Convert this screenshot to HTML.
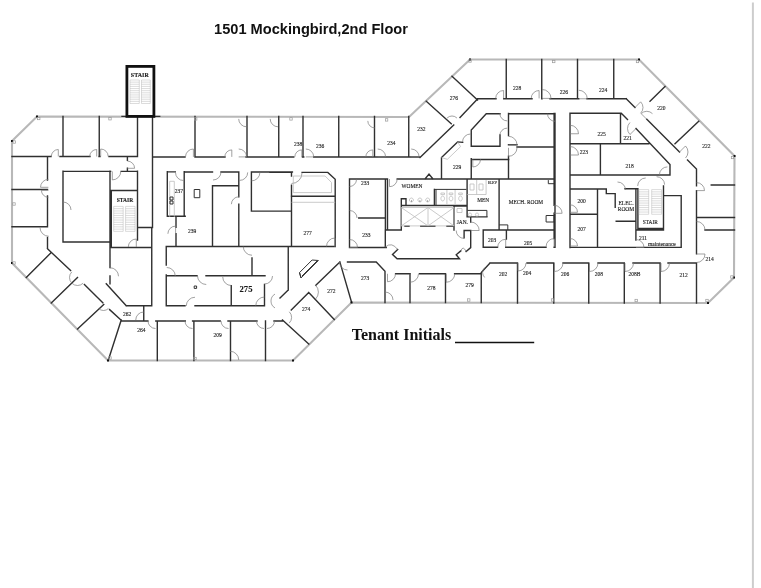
<!DOCTYPE html>
<html><head><meta charset="utf-8"><style>
html,body{margin:0;padding:0;background:#fff;width:761px;height:588px;overflow:hidden}
svg{position:absolute;left:0;top:0;will-change:transform}
</style></head><body>
<svg width="761" height="588" viewBox="0 0 761 588">
<line x1="752.9" y1="2.5" x2="752.9" y2="588" stroke="#cdcdcd" stroke-width="2"/>
<text x="311" y="33.7" font-family="Liberation Sans" font-weight="bold" font-size="14.6" text-anchor="middle" fill="#111">1501 Mockingbird,2nd Floor</text>
<path d="M37 116.5 L409 117 L470 59.5 L639 59.5 L734.5 156 L734 277.5 L708 303 L351.5 302.5 L293 360.5 L108 360.5 L12 263 L12 141 Z" fill="none" stroke="#b8b8b8" stroke-width="2.1" stroke-linejoin="miter"/>
<path d="M63 116.5 V156.5 M99.25 116.5 V156.5 M12 156.5 H51 M60 156.5 H90 M99 156.5 H100 M109 156.5 H137.5 M137.5 116.5 V156.5 M137.5 171.25 V240 M152.5 116.5 V227.5 M12 189.5 H47.5 M12 226.75 H47.5 M47.5 156.5 V180 M47.5 196 V226.75 M47.5 237.5 V248.75 M47.5 248.75 L70.6 270.6 M84.4 284.4 L102.8 302.8 M109.6 309.6 L120.4 319.6 M51.25 252.5 L26.25 277.5 M77.5 277.5 L51.25 303 M103.75 304.5 L77.5 329 M121.25 320 L108.5 359.5 M63 171.4 H110.6 M121.2 171.4 H137.5 M127.4 156.4 V160.2 M127.4 168.3 V171.4 M63 171.25 V242 M63 242 H110 M110 171.25 V267.5 M110 276 V283.75 M111.3 190.5 V247.5 M110 190.5 H137.5 M137.5 227.5 H152.5 M110 247.5 H151.75 M151.75 227.5 V305.75 M106.25 283.75 L126.25 305.75 M126.25 305.75 H151.75 M143.75 305.75 V320 M167.3 171.6 V216.3 M184.2 171.6 V216.3 M167.3 216.3 H185.2 M167.3 171.9 H175.3 M176 216.3 V227.3 M176 233.6 V246.5 M184.2 172 H212.5 M221 172 H238.8 M251.4 172 H292.4 M212.5 185.7 V246.5 M212.5 185.7 H238.8 M238.8 172 V196.8 M238.8 204.2 V246.5 M251.4 172 V211.1 M251.4 211.1 H291.4 M291.5 172.4 V176 M291.5 185.2 V246.5 M166.25 246.5 H333.75 M166.25 246.5 V265 M166.25 275 V305.75 M166.25 275.75 H197 M206 275.75 H265 M231.25 285.6 V305.75 M264.5 284.5 V305.75 M166.25 305.75 H185 M195 305.75 H264.5 M252 258 V275.75 M288.25 246.5 V290 M288.25 290 L280 298 M302.1 172.4 L327.8 172.4 L335.2 179.3 L335.2 246.5 M270 172.4 H291.5 M291.4 196.25 H335 M195 116.5 V157 M247 116.5 V157 M278.75 116.5 V157 M303 116.5 V157 M338.75 116.5 V157 M374.5 116.5 V157 M408.75 116.5 V157 M152.5 157 H185 M195 157 H225 M246 157 H293.75 M302.5 157 H303.75 M313.75 157 H420 M121.25 321 H147.9 M155.8 321 H185.3 M192.6 321 H220.2 M228 321 H257 M274 321 H282.5 M157.3 321 V360.5 M193.9 321 V360.5 M230.5 321 V360.5 M265.5 321 V360.5 M282.5 320 L308.75 344 M308.75 292.5 L334.25 319.5 M308.75 292.5 L291.25 310 M339.9 262.1 L351.5 302 M339.9 262.1 L315.8 285.2 M349.5 179 V247.5 M349.5 179 H386.25 M397.2 179 H554.1 M385.4 179 V230 M387.5 179 V230 M358.75 218 H385.4 M349.5 247.5 H386.25 M385.4 230 H401.3 M401.3 198.7 V230 M401.3 198.7 L406 198.7 L406 204 M401.3 205.5 H466.4 M434.4 189.4 V205.5 M454 207.5 V230 M425 179 L429 174 L433 179 M454 206.1 H466.4 M405 226.3 H409 M420.8 226.3 H434.8 M447 226.3 H453 M385.3 229.9 L385.3 246.9 M397.7 249.6 L392.5 254.4 L397.1 258.8 L459.5 258.8 L456.2 254.8 L460.8 250.9 M466.1 251.5 L470.7 247.6 L470.7 230.5 M470.7 216.9 V222 M464.1 230.5 H470.7 M464.1 230.5 V237.7 M467.1 179 V216.9 M467.1 216.9 L486.9 216.9 M499.1 179 V230 M554.1 113.5 V205.4 M554.1 213.3 V238.6 M483.2 230 H554.1 M483.2 230 V247.3 M506.4 230 V239 M483.2 247.3 H497.5 M505.7 247.3 H546 M554.1 247.3 H555 M555 113.5 V247.3 M347.5 262 L376.25 262 L385 271.25 L385 302.5 M395.6 273.75 H410.1 M419.5 273.75 H445.2 M454.6 273.75 H481 M410 273.75 V302.5 M445.5 273.75 V302.5 M481.25 302.5 L481.25 272.5 L490 263 M490 263 H517.5 M527 263 H553.75 M563 263 H588.75 M598 263 H624.3 M633 263 H660.1 M668 263 H696.5 M517.5 263 V303 M553.75 263 V303 M588.75 263 V303 M624.3 263 V303 M660.1 263 V303 M426.25 101.25 L451.25 123.75 M452 76.25 L477.5 100 M420 157.5 L453.75 125 M460 117.5 L477.5 99 M506.25 59.5 V98.75 M541.75 59.5 V98.75 M577.5 59.5 V98.75 M613.75 59.5 V98.75 M477.5 98.75 H496 M503.75 98.75 H532 M542 98.75 H542 M550 98.75 H578.75 M587 98.75 H626.25 M626.25 98.75 L635 107.5 M646.8 119.3 L679.5 152 M687.5 160 L696.5 169 L696.5 185.7 M696.5 190.6 V253.9 M696.5 263.3 V303 M665 86.5 L650 101.25 M698.75 121.25 L675 143.75 M500 113.75 L486.25 113.75 L471.25 130 L471.25 146.25 L500 146.25 L500 135 M462.7 142.3 L457.6 141.9 L441.5 157.6 L441.5 178.8 M471.25 158.75 V179 M471.25 159.5 H508.75 M508.5 113.4 V135.6 M508.5 156.3 V179 M508.75 113.75 H555 M517 147 H555 M508.5 144.8 H517 M570 113.25 V247.5 M570 113.25 L621.25 113.25 L627.5 119.5 M636 128.5 L670 164.5 L670 175 M620.5 113.25 V143.75 M570 143.75 H648.75 M570 175 H670 M600.4 143.75 V175 M570 189 L606.3 189 L606.3 193.6 L615.2 193.6 L615.2 207.4 M625 188.7 H637.9 M616.2 221.2 H635.9 M597.5 189 V247.4 M570 214.3 H597.5 M570 247.4 H681.2 M635.9 188.7 V230 M635.9 231 V240 M637.9 188.7 V230 M635.9 230 H663.5 M637.9 228.5 H663.5 M663.5 186 V230 M663.5 195.6 L681.2 195.6 L681.2 247.4 M711.25 185 H734.5 M696.5 217.5 H734.5 M705 230 H734.5 M122 116.4 H159.7" fill="none" stroke="#303030" stroke-width="1.4" stroke-linecap="square"/>
<path d="M385.3 246.9 Q392 241.5 397.7 249.6 M460.8 250.9 Q463 245 466.1 251.5 M51.30 156.50 A7 7 0 0 1 58.30 149.50 L58.30 156.50 M89.70 156.50 A7 7 0 0 1 96.70 149.50 L96.70 156.50 M108.20 156.50 A7.5 7.5 0 0 0 100.70 149.00 L100.70 156.50 M127.40 161.10 A7.2 7.2 0 0 1 134.60 168.30 L127.40 168.30 M120.80 171.40 A8.5 8.5 0 0 1 112.30 179.90 L112.30 171.40 M48.40 187.30 L40.50 187.30 M40.50 187.30 A7.9 7.9 0 0 1 48.40 179.40 M48.40 197.30 A7 7 0 0 1 41.40 190.30 L48.40 190.30 M48.75 236.25 A8.75 8.75 0 0 1 40.00 227.50 M110.00 267.75 A8.5 8.5 0 0 1 118.50 276.25 M128.30 247.00 A8 8 0 0 1 136.30 239.00 L136.30 247.00 M166.75 267.50 A8.5 8.5 0 0 1 175.25 276.00 M167.90 233.80 A7.7 7.7 0 0 1 175.60 226.10 L175.60 233.80 M135.75 320.00 A8 8 0 0 1 143.75 312.00 M155.50 328.50 A7.5 7.5 0 0 1 148.00 321.00 M192.50 328.50 A7.5 7.5 0 0 1 185.00 321.00 M228.50 328.50 A7.5 7.5 0 0 1 221.00 321.00 M230.00 351.25 A8.75 8.75 0 0 1 238.75 360.00 M186.25 306.00 A8.75 8.75 0 0 1 195.00 297.25 M206.25 284.50 A8.75 8.75 0 0 1 197.50 275.75 M231.25 285.50 A8.5 8.5 0 0 1 222.75 277.00 M252.00 255.25 A8.75 8.75 0 0 1 243.25 246.50 M272.50 276.00 A8 8 0 0 1 264.50 284.00 M255.75 305.75 A8.75 8.75 0 0 1 264.50 297.00 M274.50 321.00 A7.5 7.5 0 0 1 267.00 328.50 M264.00 328.50 A7.5 7.5 0 0 1 256.50 321.00 M185.50 156.90 A7.9 7.9 0 0 1 193.40 149.00 L193.40 156.90 M224.80 156.90 A7 7 0 0 1 231.80 149.90 L231.80 156.90 M238.70 149.00 A7.9 7.9 0 0 1 246.60 156.90 L238.70 156.90 M246.60 126.80 A7.9 7.9 0 0 1 238.70 118.90 M278.10 126.80 A7.9 7.9 0 0 1 270.20 118.90 M183.50 180.50 A8 8 0 0 1 175.50 172.50 M221.00 172.00 A8 8 0 0 1 213.00 180.00 M231.40 204.20 A7.4 7.4 0 0 1 238.80 196.80 M247.70 172.40 A8 8 0 0 1 239.70 180.40 M259.90 172.40 A8.5 8.5 0 0 1 251.40 180.90 M302.00 173.00 A10.5 10.5 0 0 1 291.50 183.50 M294.80 156.90 A7 7 0 0 1 301.80 149.90 L301.80 156.90 M305.80 149.00 A7.9 7.9 0 0 1 313.70 156.90 L305.80 156.90 M365.80 156.90 A7 7 0 0 1 372.80 149.90 L372.80 156.90 M377.70 149.00 A7.9 7.9 0 0 1 385.60 156.90 L377.70 156.90 M411.20 149.00 A7.9 7.9 0 0 1 419.10 156.90 L411.20 156.90 M374.80 127.90 A7 7 0 0 1 367.80 120.90 M326.50 246.50 A8.5 8.5 0 0 1 335.00 238.00 L335.00 246.50 M349.50 239.50 A8 8 0 0 1 357.50 247.50 L349.50 247.50 M347.50 270.00 A8 8 0 0 1 339.50 262.00 M395.50 273.75 A8 8 0 0 1 387.50 281.75 L387.50 273.75 M385.00 292.00 A8 8 0 0 1 393.00 300.00 M418.50 273.75 A8.5 8.5 0 0 1 410.00 282.25 L410.00 273.75 M454.75 273.75 A8.5 8.5 0 0 1 446.25 282.25 L446.25 273.75 M497.70 247.30 A8 8 0 0 1 505.70 239.30 L505.70 247.30 M546.10 246.60 A8 8 0 0 1 554.10 238.60 L554.10 246.60 M526.00 263.00 A8 8 0 0 1 518.00 271.00 L518.00 263.00 M563.00 263.00 A8.5 8.5 0 0 1 554.50 271.50 L554.50 263.00 M598.00 263.00 A8.5 8.5 0 0 1 589.50 271.50 L589.50 263.00 M633.50 263.00 A8.5 8.5 0 0 1 625.00 271.50 L625.00 263.00 M669.50 263.00 A8.5 8.5 0 0 1 661.00 271.50 L661.00 263.00 M570.00 204.80 A7.5 7.5 0 0 1 577.50 212.30 L570.00 212.30 M570.00 238.50 A7.5 7.5 0 0 1 577.50 246.00 L570.00 246.00 M636.00 239.50 A8 8 0 0 1 644.00 247.50 L636.00 247.50 M696.50 254.00 L705.00 254.00 M705.00 254.00 A8.5 8.5 0 0 1 696.50 262.50 M696.50 182.60 A8 8 0 0 1 704.50 190.60 L696.50 190.60 M696.50 221.50 A8.5 8.5 0 0 1 705.00 230.00 M617.50 182.00 A8 8 0 0 1 625.50 190.00 M397.20 179.00 A7.7 7.7 0 0 1 389.50 186.70 L389.50 179.00 M470.70 222.00 A8.5 8.5 0 0 1 479.20 230.50 L470.70 230.50 M464.10 238.40 A7.9 7.9 0 0 1 456.20 230.50 M554.10 205.30 A8 8 0 0 1 562.10 213.30 L554.10 213.30 M480.50 159.30 A7.7 7.7 0 0 1 472.80 167.00 L472.80 159.30 M507.30 120.90 A7.5 7.5 0 0 1 499.80 113.40 M499.80 135.60 A7.5 7.5 0 0 1 507.30 128.10 M508.50 136.30 A8.5 8.5 0 0 1 517.00 144.80 L508.50 144.80 M517.00 147.80 A8.5 8.5 0 0 1 508.50 156.30 L508.50 147.80 M578.75 90.25 A8.5 8.5 0 0 1 587.25 98.75 L578.75 98.75 M495.70 98.40 A7.9 7.9 0 0 1 503.60 90.50 L503.60 98.40 M531.20 98.40 A7.9 7.9 0 0 1 539.10 90.50 L539.10 98.40 M542.10 89.50 A8.9 8.9 0 0 1 551.00 98.40 L542.10 98.40 M555.00 121.25 A7.5 7.5 0 0 1 547.50 113.75 M570.00 125.25 A8.5 8.5 0 0 1 578.50 133.75 L570.00 133.75 M570.00 146.50 A8.5 8.5 0 0 1 578.50 155.00 L570.00 155.00 M635.00 107.50 L640.66 101.84 M640.66 101.84 A8 8 0 0 1 640.66 113.16 M646.80 119.30 L641.14 113.64 M641.14 113.64 A8 8 0 0 1 652.46 113.64 M447.05 118.05 A7 7 0 0 1 456.95 118.05 M462.50 142.00 A8 8 0 0 1 470.50 134.00 M636.00 128.50 L629.99 134.51 M629.99 134.51 A8.5 8.5 0 0 1 629.99 122.49 M679.50 152.00 L685.51 145.99 M685.51 145.99 A8.5 8.5 0 0 1 685.51 158.01 M659.40 174.90 A8 8 0 0 1 667.40 166.90 M637.70 186.00 A8 8 0 0 1 645.70 178.00 M656.60 176.70 A8 8 0 0 1 664.60 184.70 M275.00 307.93 A8 8 0 0 1 275.00 294.07 M289.26 311.74 A8 8 0 0 1 289.26 323.06 M315.47 285.03 A10 10 0 0 1 315.47 299.17 M71.84 283.16 A8 8 0 0 1 71.84 271.84 M83.16 283.16 A8 8 0 0 1 71.84 283.16 M63.00 202.00 A8 8 0 0 1 71.00 210.00 M484.65 277.45 A7 7 0 0 1 484.65 267.55 M356.50 179.50 A7 7 0 0 1 349.50 186.50 M349.50 210.50 A7.5 7.5 0 0 1 357.00 218.00 M108.45 308.45 A7 7 0 0 1 98.55 308.45" fill="none" stroke="#7a7a7a" stroke-width="0.7"/>
<path d="M130 80.00 H139.3 M130 82.14 H139.3 M130 84.27 H139.3 M130 86.41 H139.3 M130 88.55 H139.3 M130 90.68 H139.3 M130 92.82 H139.3 M130 94.95 H139.3 M130 97.09 H139.3 M130 99.23 H139.3 M130 101.36 H139.3 M130 103.50 H139.3 M130 80 V103.5 M139.3 80 V103.5 M141.5 80.00 H150.3 M141.5 82.14 H150.3 M141.5 84.27 H150.3 M141.5 86.41 H150.3 M141.5 88.55 H150.3 M141.5 90.68 H150.3 M141.5 92.82 H150.3 M141.5 94.95 H150.3 M141.5 97.09 H150.3 M141.5 99.23 H150.3 M141.5 101.36 H150.3 M141.5 103.50 H150.3 M141.5 80 V103.5 M150.3 80 V103.5 M113.7 206.40 H123.2 M113.7 208.67 H123.2 M113.7 210.95 H123.2 M113.7 213.22 H123.2 M113.7 215.49 H123.2 M113.7 217.76 H123.2 M113.7 220.04 H123.2 M113.7 222.31 H123.2 M113.7 224.58 H123.2 M113.7 226.85 H123.2 M113.7 229.13 H123.2 M113.7 231.40 H123.2 M113.7 206.4 V231.4 M123.2 206.4 V231.4 M125.6 206.40 H135.1 M125.6 208.67 H135.1 M125.6 210.95 H135.1 M125.6 213.22 H135.1 M125.6 215.49 H135.1 M125.6 217.76 H135.1 M125.6 220.04 H135.1 M125.6 222.31 H135.1 M125.6 224.58 H135.1 M125.6 226.85 H135.1 M125.6 229.13 H135.1 M125.6 231.40 H135.1 M125.6 206.4 V231.4 M135.1 206.4 V231.4 M638.8 189.60 H648.7 M638.8 191.85 H648.7 M638.8 194.09 H648.7 M638.8 196.34 H648.7 M638.8 198.58 H648.7 M638.8 200.83 H648.7 M638.8 203.07 H648.7 M638.8 205.32 H648.7 M638.8 207.56 H648.7 M638.8 209.81 H648.7 M638.8 212.05 H648.7 M638.8 214.30 H648.7 M638.8 189.6 V214.3 M648.7 189.6 V214.3 M651.7 189.60 H661.5 M651.7 191.85 H661.5 M651.7 194.09 H661.5 M651.7 196.34 H661.5 M651.7 198.58 H661.5 M651.7 200.83 H661.5 M651.7 203.07 H661.5 M651.7 205.32 H661.5 M651.7 207.56 H661.5 M651.7 209.81 H661.5 M651.7 212.05 H661.5 M651.7 214.30 H661.5 M651.7 189.6 V214.3 M661.5 189.6 V214.3" fill="none" stroke="#a6a6a6" stroke-width="0.4"/>
<path d="M169.7 181.3 V216.8 M174.3 181.3 V216.8 M169.7 181.3 H174.3 M293.3 176 H325.1 L331.5 182.5 V192.6 H293.3 Z M291.5 202.3 H335.2 M401.3 207.5 H454 V225.9 H401.3 Z M428 207.5 V225.9 M401.3 207.5 L428 225.9 M428 207.5 L401.3 225.9 M428 207.5 L454 225.9 M454 207.5 L428 225.9 M446.9 189.4 V204.3 M455.1 189.4 V204.3 M411.39 198 a2 2 0 1 0 0.01 0 M419.89 198 a2 2 0 1 0 0.01 0 M427.69 198 a2 2 0 1 0 0.01 0 M442.7 196 a1.8 2.5 0 1 0 0.01 0 M440.9 193 h3.6 v1.6 h-3.6 z M451 196 a1.8 2.5 0 1 0 0.01 0 M449.2 193 h3.6 v1.6 h-3.6 z M460.5 196 a1.8 2.5 0 1 0 0.01 0 M458.7 193 h3.6 v1.6 h-3.6 z M457 208.5 h5 v4 h-5 z M467.3 194.5 H486.1 M476.7 180 V194.5 M486.1 180 V194.5 M470 184 h4 v6 h-4 z M479 184 h4 v6 h-4 z M470 213 a1.6 1.6 0 1 0 0.01 0 M477 213 a1.6 1.6 0 1 0 0.01 0 M447.4 159.3 L460.6 146.6 M441.5 157.6 L447.4 159.3 M457.6 141.9 L460.6 146.6" fill="none" stroke="#bdbdbd" stroke-width="0.8"/>
<path d="M194.2 286 h2.4 v2.4 h-2.4 z M194.2 189.5 H199.8 V197.7 H194.2 Z M170 197 h3 v3 h-3 z M170 201 h3 v3 h-3 z M299.5 272.6 L312.1 260 L318.4 260.5 L301 277.9 Z M301 277.9 L299.5 272.6 M302 276 L317 261 M436 189.4 V205.5 M434.4 189.4 H466.4 M411 201 h0.8 M419.5 201 h0.8 M427.3 201 h0.8 M482 210.4 H486.9 V216.9 M467.3 210.4 H482 M548.3 180.1 V183.7 H554.1 M546.1 215.5 H554.1 V222 H546.1 Z M499.1 224.9 H507.8 V230" fill="none" stroke="#333" stroke-width="1"/>
<rect x="126.9" y="66.4" width="27" height="50" fill="none" stroke="#111" stroke-width="2.8"/>
<g fill="#1a1a1a" stroke="#1a1a1a" stroke-width="0.12"><text x="492.5" y="183.5" font-size="3.5" font-family="Liberation Serif" text-anchor="middle">ELEV</text>
<text x="139.8" y="76.5" font-size="6" font-family="Liberation Serif" font-weight="bold" text-anchor="middle">STAIR</text>
<text x="125" y="201.9" font-size="5.5" font-family="Liberation Serif" font-weight="bold" text-anchor="middle">STAIR</text>
<text x="650.3" y="224.2" font-size="5.4" font-family="Liberation Serif" text-anchor="middle">STAIR</text>
<text x="626" y="205.3" font-size="5.5" font-family="Liberation Serif" text-anchor="middle">ELEC.</text>
<text x="626" y="211.3" font-size="5.5" font-family="Liberation Serif" text-anchor="middle">ROOM</text>
<text x="412" y="187.8" font-size="5.4" font-family="Liberation Serif" text-anchor="middle">WOMEN</text>
<text x="483.2" y="201.6" font-size="5.4" font-family="Liberation Serif" text-anchor="middle">MEN</text>
<text x="525.9" y="203.6" font-size="5.4" font-family="Liberation Serif" text-anchor="middle">MECH. ROOM</text>
<text x="462.3" y="224.3" font-size="5.4" font-family="Liberation Serif" text-anchor="middle">JAN.</text>
<text x="127" y="316" font-size="5.5" font-family="Liberation Serif" text-anchor="middle">262</text>
<text x="141.25" y="332" font-size="5.5" font-family="Liberation Serif" text-anchor="middle">264</text>
<text x="217.5" y="337" font-size="5.5" font-family="Liberation Serif" text-anchor="middle">209</text>
<text x="331.25" y="293" font-size="5.5" font-family="Liberation Serif" text-anchor="middle">272</text>
<text x="306" y="311" font-size="5.5" font-family="Liberation Serif" text-anchor="middle">274</text>
<text x="365" y="279.5" font-size="5.5" font-family="Liberation Serif" text-anchor="middle">273</text>
<text x="431.25" y="289.5" font-size="5.5" font-family="Liberation Serif" text-anchor="middle">278</text>
<text x="469.5" y="287" font-size="5.5" font-family="Liberation Serif" text-anchor="middle">279</text>
<text x="503" y="275.75" font-size="5.5" font-family="Liberation Serif" text-anchor="middle">202</text>
<text x="527" y="275" font-size="5.5" font-family="Liberation Serif" text-anchor="middle">204</text>
<text x="565" y="275.75" font-size="5.5" font-family="Liberation Serif" text-anchor="middle">206</text>
<text x="598.75" y="275.75" font-size="5.5" font-family="Liberation Serif" text-anchor="middle">208</text>
<text x="634.5" y="275.75" font-size="5.5" font-family="Liberation Serif" text-anchor="middle">208B</text>
<text x="683.5" y="276.5" font-size="5.5" font-family="Liberation Serif" text-anchor="middle">212</text>
<text x="709.7" y="261.4" font-size="5.5" font-family="Liberation Serif" text-anchor="middle">214</text>
<text x="643" y="239.9" font-size="5.5" font-family="Liberation Serif" text-anchor="middle">211</text>
<text x="492" y="241.5" font-size="5.5" font-family="Liberation Serif" text-anchor="middle">203</text>
<text x="528" y="244.5" font-size="5.5" font-family="Liberation Serif" text-anchor="middle">205</text>
<text x="581.7" y="202.5" font-size="5.5" font-family="Liberation Serif" text-anchor="middle">200</text>
<text x="581.7" y="231" font-size="5.5" font-family="Liberation Serif" text-anchor="middle">207</text>
<text x="629.5" y="167.5" font-size="5.5" font-family="Liberation Serif" text-anchor="middle">218</text>
<text x="583.75" y="154" font-size="5.5" font-family="Liberation Serif" text-anchor="middle">223</text>
<text x="601.5" y="135.75" font-size="5.5" font-family="Liberation Serif" text-anchor="middle">225</text>
<text x="627.5" y="140" font-size="5.5" font-family="Liberation Serif" text-anchor="middle">221</text>
<text x="706.25" y="147.5" font-size="5.5" font-family="Liberation Serif" text-anchor="middle">222</text>
<text x="661.25" y="110" font-size="5.5" font-family="Liberation Serif" text-anchor="middle">220</text>
<text x="603" y="92" font-size="5.5" font-family="Liberation Serif" text-anchor="middle">224</text>
<text x="563.75" y="94" font-size="5.5" font-family="Liberation Serif" text-anchor="middle">226</text>
<text x="517" y="90" font-size="5.5" font-family="Liberation Serif" text-anchor="middle">228</text>
<text x="453.75" y="99.5" font-size="5.5" font-family="Liberation Serif" text-anchor="middle">276</text>
<text x="421.25" y="130.75" font-size="5.5" font-family="Liberation Serif" text-anchor="middle">232</text>
<text x="391.25" y="144.5" font-size="5.5" font-family="Liberation Serif" text-anchor="middle">234</text>
<text x="320" y="147.75" font-size="5.5" font-family="Liberation Serif" text-anchor="middle">236</text>
<text x="298" y="146" font-size="5.5" font-family="Liberation Serif" text-anchor="middle">238</text>
<text x="365" y="184.5" font-size="5.5" font-family="Liberation Serif" text-anchor="middle">233</text>
<text x="366.25" y="237" font-size="5.5" font-family="Liberation Serif" text-anchor="middle">233</text>
<text x="307.5" y="234.5" font-size="5.5" font-family="Liberation Serif" text-anchor="middle">277</text>
<text x="457" y="169" font-size="5.5" font-family="Liberation Serif" text-anchor="middle">229</text>
<text x="192" y="233" font-size="5.5" font-family="Liberation Serif" text-anchor="middle">239</text>
<text x="178.9" y="193" font-size="5.5" font-family="Liberation Serif" text-anchor="middle">237</text>
<text x="661.9" y="245.7" font-size="5.5" font-family="Liberation Serif" text-anchor="middle">maintenance</text>
<text x="246" y="292" font-size="8.6" font-family="Liberation Serif" font-weight="bold" text-anchor="middle">275</text></g>
<g fill="#111"><rect x="36" y="115.5" width="2" height="2"/><rect x="11" y="140" width="2" height="2"/><rect x="11" y="262" width="2" height="2"/><rect x="107" y="359.5" width="2" height="2"/><rect x="292" y="359.5" width="2" height="2"/><rect x="350.5" y="301.5" width="2" height="2"/><rect x="707" y="302" width="2" height="2"/><rect x="733" y="276.5" width="2" height="2"/><rect x="733.5" y="155" width="2" height="2"/><rect x="638" y="58.5" width="2" height="2"/><rect x="469" y="58.5" width="2" height="2"/></g>
<g fill="none" stroke="#999" stroke-width="0.7"><rect x="37.55" y="117.3" width="2.4" height="2.4"/><rect x="13.05" y="140.8" width="2.4" height="2.4"/><rect x="108.8" y="117.55" width="2.4" height="2.4"/><rect x="194.5" y="117.7" width="2.4" height="2.4"/><rect x="289.8" y="117.7" width="2.4" height="2.4"/><rect x="385.4" y="118.7" width="2.4" height="2.4"/><rect x="552.55" y="60.3" width="2.4" height="2.4"/><rect x="636.3" y="60.3" width="2.4" height="2.4"/><rect x="468.8" y="59.8" width="2.4" height="2.4"/><rect x="731.3" y="156.3" width="2.4" height="2.4"/><rect x="730.7" y="275.8" width="2.4" height="2.4"/><rect x="705.8" y="299.3" width="2.4" height="2.4"/><rect x="635" y="299.3" width="2.4" height="2.4"/><rect x="467.55" y="298.8" width="2.4" height="2.4"/><rect x="551.3" y="298.8" width="2.4" height="2.4"/><rect x="193.8" y="357.3" width="2.4" height="2.4"/><rect x="108.8" y="356.8" width="2.4" height="2.4"/><rect x="12.8" y="202.8" width="2.4" height="2.4"/><rect x="12.8" y="261.8" width="2.4" height="2.4"/></g>
<text x="401.5" y="339.6" font-family="Liberation Serif" font-weight="bold" font-size="16" text-anchor="middle" fill="#111">Tenant Initials</text>
<line x1="455" y1="342.5" x2="534.2" y2="342.5" stroke="#111" stroke-width="1.6"/>
</svg>
</body></html>
